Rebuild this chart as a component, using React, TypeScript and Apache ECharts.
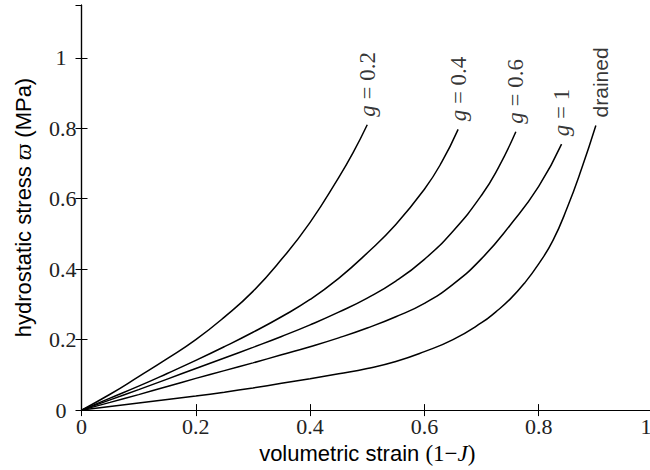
import React, { useEffect, useRef } from "react";
import * as echarts from "echarts";

// Curve data: [volumetric strain (1-J), hydrostatic stress (MPa)]
const curveG02: [number, number][] = [
  [0, 0], [0.05, 0.045], [0.1, 0.095], [0.15, 0.146], [0.2, 0.2], [0.25, 0.264],
  [0.3, 0.337], [0.35, 0.428], [0.4, 0.533], [0.45, 0.66], [0.475, 0.73], [0.5, 0.81],
];
const curveG04: [number, number][] = [
  [0, 0], [0.05, 0.034], [0.1, 0.068], [0.15, 0.104], [0.2, 0.141], [0.25, 0.18],
  [0.3, 0.221], [0.35, 0.265], [0.4, 0.314], [0.45, 0.374], [0.5, 0.446], [0.55, 0.527],
  [0.6, 0.627], [0.63, 0.703], [0.659, 0.797],
];
const curveG06: [number, number][] = [
  [0, 0], [0.05, 0.029], [0.1, 0.058], [0.15, 0.088], [0.2, 0.118], [0.25, 0.148],
  [0.3, 0.178], [0.35, 0.209], [0.4, 0.242], [0.45, 0.278], [0.5, 0.318], [0.55, 0.366],
  [0.6, 0.428], [0.65, 0.508], [0.7, 0.61], [0.73, 0.69], [0.76, 0.79],
];
const curveG1: [number, number][] = [
  [0, 0], [0.05, 0.022], [0.1, 0.044], [0.15, 0.067], [0.2, 0.09], [0.25, 0.112],
  [0.3, 0.134], [0.35, 0.157], [0.4, 0.18], [0.45, 0.205], [0.5, 0.233], [0.55, 0.265],
  [0.6, 0.303], [0.65, 0.357], [0.7, 0.43], [0.75, 0.525], [0.8, 0.635], [0.84, 0.755],
];
const curveDrained: [number, number][] = [
  [0, 0], [0.05, 0.01], [0.1, 0.02], [0.15, 0.03], [0.2, 0.04], [0.25, 0.051],
  [0.3, 0.063], [0.35, 0.076], [0.4, 0.089], [0.45, 0.103], [0.5, 0.118], [0.55, 0.138],
  [0.6, 0.166], [0.65, 0.2], [0.7, 0.248], [0.725, 0.279], [0.75, 0.315], [0.775, 0.36],
  [0.8, 0.415], [0.825, 0.482], [0.85, 0.575], [0.875, 0.685], [0.9, 0.808],
];

const curveLabels = ["{i|g} = 0.2", "{i|g} = 0.4", "{i|g} = 0.6", "{i|g} = 1", "{s|drained}"];
const curves = [curveG02, curveG04, curveG06, curveG1, curveDrained];

const xTickValues = [0, 0.2, 0.4, 0.6, 0.8, 1];
const yTickValues = [0, 0.2, 0.4, 0.6, 0.8, 1];

const SERIF = "'Liberation Serif', 'DejaVu Serif', serif";
const SANS = "'Liberation Sans', 'DejaVu Sans', sans-serif";

export default function App() {
  const ref = useRef<HTMLDivElement>(null);

  useEffect(() => {
    if (!ref.current) return;
    const chart = echarts.init(ref.current, undefined, { renderer: "svg" });

    const isTick = (v: number, list: number[]) => list.some((t) => Math.abs(t - v) < 1e-6);

    const lineSeries = curves.map((c) => ({
      type: "line" as const,
      data: c,
      showSymbol: false,
      smooth: 0.5,
      lineStyle: { color: "#000", width: 1.5 },
      silent: true,
      z: 3,
    }));

    const labelSeries = curves.map((c, i) => ({
      type: "scatter" as const,
      data: [c[c.length - 1]],
      symbolSize: 0,
      silent: true,
      label: {
        show: true,
        position: "top" as const,
        distance: 8,
        rotate: 90,
        align: "left" as const,
        verticalAlign: "middle" as const,
        formatter: curveLabels[i],
        color: "#000",
        fontFamily: SERIF,
        fontSize: 23,
        rich: {
          i: { fontFamily: SERIF, fontStyle: "italic", fontSize: 23, color: "#000" },
          s: { fontFamily: SANS, fontSize: 21, color: "#000", padding: [10, 0, 0, 0] },
        },
      },
      z: 4,
    }));

    const option: any = {
      animation: false,
      grid: { left: 81.5, right: 7, top: 5, bottom: 52.3, containLabel: false },
      xAxis: [
        {
          type: "value",
          min: 0,
          max: 1,
          interval: 0.2,
          position: "bottom",
          name: "volumetric strain {m|(1\u2212}{i|J}{m|)}",
          nameLocation: "middle",
          nameGap: 38,
          nameTextStyle: {
            fontFamily: SANS,
            fontSize: 22,
            color: "#000",
            verticalAlign: "middle",
            rich: {
              m: { fontFamily: SERIF, fontSize: 23, color: "#000" },
              i: { fontFamily: SERIF, fontStyle: "italic", fontSize: 23, color: "#000" },
            },
          },
          axisLine: { show: true, lineStyle: { color: "#000", width: 1.2 } },
          axisTick: { show: true, inside: true, length: 6, lineStyle: { color: "#000", width: 1 } },
          axisLabel: {
            show: true,
            margin: 5,
            fontFamily: SERIF,
            fontSize: 22,
            color: "#222",
            formatter: (v: number) => {
              if (!isTick(v, xTickValues)) return "";
              const r = Math.round(v * 10) / 10;
              return r === 1 ? "{e|1}" : String(r);
            },
            rich: {
              e: { fontFamily: SERIF, fontSize: 22, color: "#222", padding: [0, 14, 0, 0] },
            },
          },
          splitLine: { show: false },
        },
        {
          type: "value",
          min: 0,
          max: 1,
          interval: 0.2,
          position: "top",
          axisLine: { show: true, lineStyle: { color: "#000", width: 1.2 } },
          axisTick: { show: true, inside: true, length: 6, lineStyle: { color: "#000", width: 1 } },
          axisLabel: { show: false },
          splitLine: { show: false },
        },
      ],
      yAxis: [
        {
          type: "value",
          min: 0,
          max: 1.15,
          interval: 0.2,
          position: "left",
          name: "hydrostatic stress {m|\u03D6} (MPa)",
          nameLocation: "middle",
          nameGap: 58,
          nameRotate: 90,
          nameTextStyle: {
            fontFamily: SANS,
            fontSize: 22,
            color: "#000",
            verticalAlign: "middle",
            rich: {
              m: { fontFamily: SERIF, fontStyle: "italic", fontSize: 23, color: "#000" },
            },
          },
          axisLine: { show: true, lineStyle: { color: "#000", width: 1.2 } },
          axisTick: { show: true, inside: true, length: 6, lineStyle: { color: "#000", width: 1 } },
          axisLabel: {
            show: true,
            margin: 5,
            fontFamily: SERIF,
            fontSize: 22,
            color: "#222",
            showMaxLabel: false,
            formatter: (v: number) => {
              if (!isTick(v, yTickValues)) return "";
              const r = Math.round(v * 10) / 10;
              return Number.isInteger(r) ? "{n|" + r + "}" : String(r);
            },
            rich: {
              n: { fontFamily: SERIF, fontSize: 22, color: "#222", padding: [0, 10, 0, 0] },
            },
          },
          splitLine: { show: false },
        },
        {
          type: "value",
          min: 0,
          max: 1.15,
          interval: 0.2,
          position: "right",
          axisLine: { show: true, lineStyle: { color: "#000", width: 1.2 } },
          axisTick: { show: true, inside: true, length: 6, lineStyle: { color: "#000", width: 1 } },
          axisLabel: { show: false },
          splitLine: { show: false },
        },
      ],
      series: [...lineSeries, ...labelSeries],
    };

    chart.setOption(option);
    return () => chart.dispose();
  }, []);

  return (
    <div style={{ position: "absolute", left: 0, top: 0, width: 650, height: 470, overflow: "hidden", background: "#fff" }}>
      <div ref={ref} style={{ width: 660, height: 470 }} />
    </div>
  );
}
